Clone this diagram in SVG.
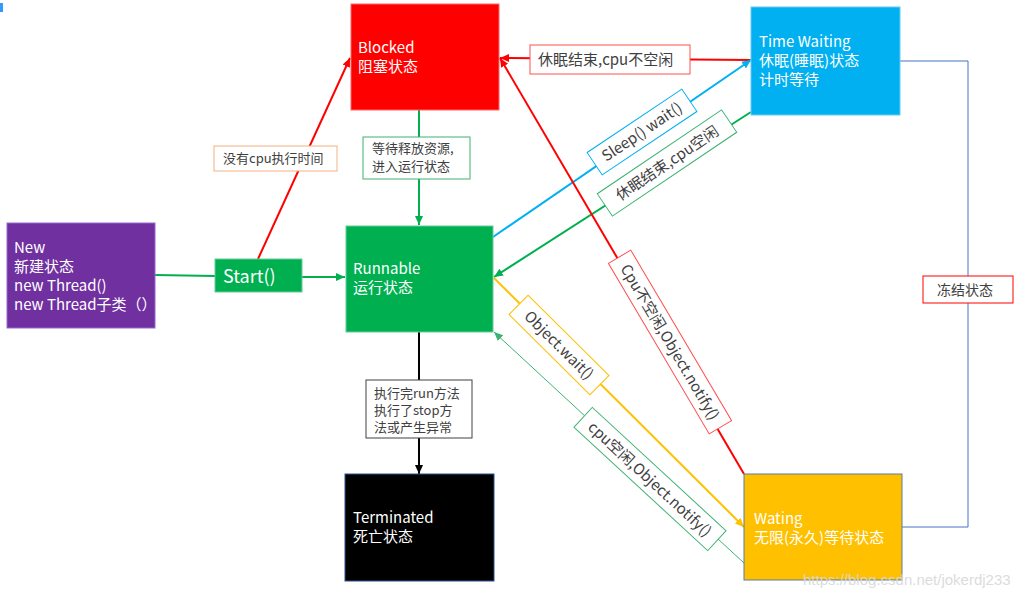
<svg xmlns="http://www.w3.org/2000/svg" width="1033" height="599" viewBox="0 0 1033 599">
<style>
.nt{font-family:"Noto Sans CJK SC","Noto Sans",sans-serif;font-size:15px;fill:#ffffff}
.lt{font-family:"Noto Sans CJK SC","Noto Sans",sans-serif;font-size:13px;fill:#404040}
.rt{font-family:"Noto Sans CJK SC","Noto Sans",sans-serif;font-size:15px;fill:#404040}
.lb{fill:#ffffff;stroke-width:1}
.c{fill:none;stroke-width:2}
</style>
<defs>
<marker id="aG" markerUnits="userSpaceOnUse" markerWidth="10" markerHeight="10" refX="9" refY="5" orient="auto"><path d="M0,1 L9,5 L0,9 z" fill="#00B050"/></marker>
<marker id="aR" markerUnits="userSpaceOnUse" markerWidth="10" markerHeight="10" refX="9" refY="5" orient="auto"><path d="M0,1 L9,5 L0,9 z" fill="#FF0000"/></marker>
<marker id="aB" markerUnits="userSpaceOnUse" markerWidth="10" markerHeight="10" refX="9" refY="5" orient="auto"><path d="M0,1 L9,5 L0,9 z" fill="#00B0F0"/></marker>
<marker id="aK" markerUnits="userSpaceOnUse" markerWidth="10" markerHeight="10" refX="9" refY="5" orient="auto"><path d="M0,1 L9,5 L0,9 z" fill="#000000"/></marker>
<marker id="aY" markerUnits="userSpaceOnUse" markerWidth="10" markerHeight="10" refX="9" refY="5" orient="auto"><path d="M0,1 L9,5 L0,9 z" fill="#FFC000"/></marker>
<marker id="aG2" markerUnits="userSpaceOnUse" markerWidth="10" markerHeight="10" refX="9" refY="5" orient="auto"><path d="M0,1 L9,5 L0,9 z" fill="#3CB371"/></marker>
</defs>
<rect x="0" y="0" width="1033" height="599" fill="#ffffff"/>
<rect x="0" y="3" width="3" height="9" fill="#3399ff"/>

<g id="connectors">
<line class="c" x1="155" y1="275" x2="215" y2="276" stroke="#00B050"/>
<line class="c" x1="302" y1="277" x2="345" y2="277" stroke="#00B050" marker-end="url(#aG)"/>
<line class="c" x1="258" y1="259" x2="350" y2="58" stroke="#FF0000" marker-end="url(#aR)"/>
<line class="c" x1="419" y1="110" x2="419" y2="225" stroke="#00B050" marker-end="url(#aG)"/>
<line class="c" x1="419" y1="332" x2="419" y2="474" stroke="#000000" marker-end="url(#aK)"/>
<line class="c" x1="751" y1="60" x2="500" y2="58" stroke="#FF0000" marker-end="url(#aR)"/>
<line class="c" x1="493" y1="237" x2="751" y2="60" stroke="#00B0F0" marker-end="url(#aB)"/>
<line class="c" x1="751" y1="112" x2="494" y2="277" stroke="#00B050" marker-end="url(#aG)"/>
<line class="c" x1="744" y1="474" x2="500" y2="58" stroke="#FF0000" marker-end="url(#aR)"/>
<line class="c" x1="494" y1="278" x2="744" y2="527" stroke="#FFC000" marker-end="url(#aY)"/>
<line x1="744" y1="563" x2="494" y2="332" stroke="#3CB371" stroke-width="1" marker-end="url(#aG2)"/>
<polyline points="900,61 968,61 968,527 902,527" fill="none" stroke="#4472C4" stroke-width="1"/>

<g id="lbl-nocpu">
<rect class="lb" x="214" y="146" width="123" height="25" stroke="#F4B183"/>
<text class="lt" x="223" y="163">没有cpu执行时间</text>
</g>
<g id="lbl-release">
<rect class="lb" x="363" y="137" width="107" height="42" stroke="#3CB371"/>
<text class="lt" x="372" y="153">等待释放资源,</text>
<text class="lt" x="372" y="171">进入运行状态</text>
</g>
<g id="lbl-sleepend-busy">
<rect class="lb" x="530" y="45" width="160" height="29" stroke="#FF5050"/>
<text class="lt" x="538" y="65" style="font-size:15px">休眠结束,cpu不空闲</text>
</g>
<g id="lbl-sleep" transform="translate(642,132) rotate(-33.8)">
<rect class="lb" x="-57" y="-13.5" width="114" height="27" stroke="#00B0F0"/>
<text class="rt" x="0" y="5" text-anchor="middle">Sleep() wait()</text>
</g>
<g id="lbl-sleepend-free" transform="translate(667,163) rotate(-34)">
<rect class="lb" x="-75" y="-13.5" width="150" height="27" stroke="#3CB371"/>
<text class="rt" x="0" y="5.5" text-anchor="middle">休眠结束,cpu空闲</text>
</g>
<g id="lbl-notify-busy" transform="translate(670,342) rotate(59.4)">
<rect class="lb" x="-99" y="-13" width="198" height="26" stroke="#FF5050"/>
<text class="rt" x="0" y="5.5" text-anchor="middle">Cpu不空闲,Object.notify()</text>
</g>
<g id="lbl-wait" transform="translate(559,345) rotate(44.8)">
<rect class="lb" x="-57" y="-13.5" width="114" height="27" stroke="#FFC000"/>
<text class="rt" x="0" y="5.5" text-anchor="middle">Object.wait()</text>
</g>
<g id="lbl-notify-free" transform="translate(650,479) rotate(42.7)">
<rect class="lb" x="-91" y="-13.5" width="182" height="27" stroke="#3CB371"/>
<text class="rt" x="0" y="5.5" text-anchor="middle">cpu空闲,Object.notify()</text>
</g>
<g id="lbl-end">
<rect class="lb" x="366" y="380" width="106" height="58" stroke="#404040"/>
<text class="lt" x="374" y="398">执行完run方法</text>
<text class="lt" x="374" y="415">执行了stop方</text>
<text class="lt" x="374" y="432">法或产生异常</text>
</g>
<g id="lbl-freeze">
<rect class="lb" x="923" y="276" width="90" height="27" stroke="#FF0000"/>
<text class="lt" x="937" y="295" style="font-size:14px">冻结状态</text>
</g>
</g>

<g id="node-new">
<rect x="7" y="223" width="148" height="105" fill="#7030A0" stroke="#9966CC" stroke-width="1"/>
<text class="nt" x="14" y="253">New</text>
<text class="nt" x="14" y="272">新建状态</text>
<text class="nt" x="14" y="291">new Thread()</text>
<text class="nt" x="14" y="310">new Thread子类（）</text>
</g>
<g id="node-start">
<rect x="215" y="259" width="87" height="33" fill="#00B050" stroke="#66CC99" stroke-width="1"/>
<text class="nt" x="223" y="283" style="font-size:18px">Start()</text>
</g>
<g id="node-blocked">
<rect x="351" y="4" width="148" height="106" fill="#FF0000" stroke="#FF6666" stroke-width="1"/>
<text class="nt" x="358" y="53">Blocked</text>
<text class="nt" x="358" y="72">阻塞状态</text>
</g>
<g id="node-runnable">
<rect x="346" y="226" width="147" height="106" fill="#00B050" stroke="#66CC99" stroke-width="1"/>
<text class="nt" x="353" y="274">Runnable</text>
<text class="nt" x="353" y="293">运行状态</text>
</g>
<g id="node-timewaiting">
<rect x="751" y="7" width="149" height="108" fill="#00B0F0" stroke="#66CCF5" stroke-width="1"/>
<text class="nt" x="759" y="47">Time Waiting</text>
<text class="nt" x="759" y="66">休眠(睡眠)状态</text>
<text class="nt" x="759" y="85">计时等待</text>
</g>
<g id="node-terminated">
<rect x="345" y="474" width="149" height="107" fill="#000000" stroke="#2F528F" stroke-width="1"/>
<text class="nt" x="353" y="523">Terminated</text>
<text class="nt" x="353" y="542">死亡状态</text>
</g>
<g id="node-waiting">
<rect x="744" y="474" width="158" height="106" fill="#FFC000" stroke="#5B7AA8" stroke-width="1"/>
<text class="nt" x="754" y="524">Wating</text>
<text class="nt" x="754" y="543">无限(永久)等待状态</text>
</g>
<text x="803" y="585" style="font-family:'Liberation Sans',sans-serif;font-size:15px" fill="#d9d9d9" opacity="0.9">https://blog.csdn.net/jokerdj233</text>
</svg>
